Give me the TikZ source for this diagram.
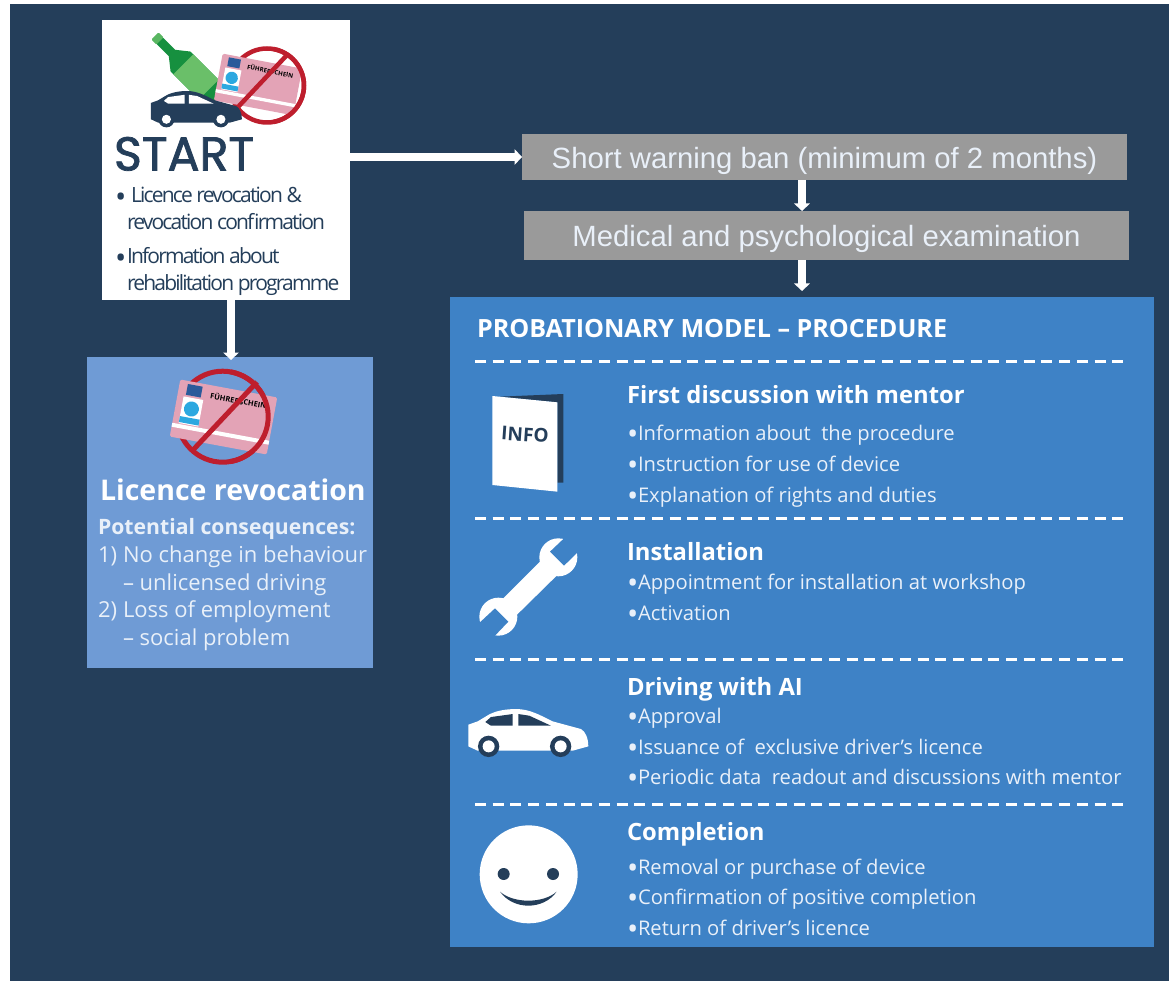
\documentclass[tikz,border=0pt]{standalone}
\usepackage{fontspec}
\setmainfont{Open Sans}
\newfontfamily\arialf{Liberation Sans}
\newfontfamily\startf[FakeBold=1.6]{Poppins}
\newfontfamily\tightf[LetterSpace=-8.6]{Open Sans}
\usetikzlibrary{arrows.meta}
\definecolor{navy}{HTML}{243E5A}
\definecolor{panel}{HTML}{3E82C6}
\definecolor{revbox}{HTML}{6F9BD5}
\definecolor{grey}{HTML}{9A9A9A}
\definecolor{softw}{HTML}{E9F0F9}
\definecolor{cardp}{HTML}{E3A3B6}
\definecolor{flagb}{HTML}{2A5A9A}
\definecolor{skyb}{HTML}{2CA8E0}
\definecolor{noRed}{HTML}{BE1E2D}
\definecolor{greend}{HTML}{16903F}
\definecolor{greenl}{HTML}{6ABF69}
\newcommand{\bul}[1]{\makebox[#1][l]{\raisebox{-.2em}{\fontsize{30}{20}\selectfont •}}}
\tikzset{
 box/.style={anchor=north west,inner sep=0pt,outer sep=0pt},
 lbl/.style={anchor=base west,inner sep=0pt,outer sep=0pt},
 arr/.style={white,line width=7.5pt,-{Triangle[length=7.5pt,width=15.5pt]}},
 head/.style={lbl,white,font=\bfseries\fontsize{23.8}{24}\selectfont},
 itm/.style={lbl,softw,font=\fontsize{20.2}{20}\selectfont},
 startt/.style={lbl,navy,font=\tightf\fontsize{21}{21}\selectfont},
 revt/.style={lbl,softw,font=\fontsize{22}{22}\selectfont},
 bantxt/.style={text=softw,text height=24pt,text depth=1pt,font=\arialf\fontsize{29.3}{30}\selectfont},
 dashline/.style={white,line width=3pt,dash pattern=on 11pt off 6.7pt},
 prohib/.style={noRed},
 licence/.pic={
  \fill[cardp,rounded corners=1.5pt] (-49.3,-29) rectangle (49.3,29);
  \fill[white] (-49.3,15) rectangle (49.3,19);
  \fill[flagb] (-41,-26) rectangle (-26,-15);
  \fill[white] (-43,-13) rectangle (-23,14);
  \fill[skyb] (-33,-2) circle (7.5);
  \fill[skyb] (-43,7) rectangle (-23,13);
  \node[transform shape,inner sep=0pt,anchor=west,font=\bfseries\fontsize{7.5}{8}\selectfont] (-ftxt) at (-17,-19) {FÜHRERSCHEIN};
 },
 pics/carpic/.style n args={4}{code={
  \fill[#1] (57,135) -- (85,125) -- (110,110) .. controls (135,93) and (170,88) .. (200,88)
    .. controls (240,88) and (270,105) .. (310,125) -- (395,148) .. controls (408,155) and (417,175) .. (417,200)
    -- (370,213) -- (85,213) -- (57,200) -- cycle;
  \fill[#2] (108,127) -- (125,112) -- (190,103) -- (190,138) -- (125,138) -- cycle;
  \fill[#2] (207,103) -- (240,108) -- (305,138) -- (207,138) -- cycle;
  \fill[#3] (118,200) circle (32);
  \fill[#3] (334,200) circle (32);
  \fill[#4] (118,200) circle (18);
  \fill[#4] (334,200) circle (18);
 }}
}
\begin{document}
\begin{tikzpicture}[x=1pt,y=-1pt]
\useasboundingbox (0,0) rectangle (1169,981);
\fill[navy] (10,4) rectangle (1169,981);

% boxes
\node[box,fill=white,minimum width=248pt,minimum height=280pt] (start) at (102,20) {};
\node[box,fill=revbox,minimum width=286pt,minimum height=311pt] (rev) at (87,357) {};
\node[box,fill=grey,minimum width=605pt,minimum height=46pt,bantxt] (ban) at (522,134) {Short warning ban (minimum of 2 months)};
\node[box,fill=grey,minimum width=605pt,minimum height=49pt,bantxt] (med) at (524,211) {Medical and psychological examination};
\node[box,fill=panel,minimum width=704pt,minimum height=650pt] (proc) at (450,297) {};

% connectors
\coordinate (flowx) at (802,0);
\coordinate (revx) at (231,0);
\draw[arr] (start.east |- ban.west) -- (ban.west);
\draw[arr] (flowx |- ban.south) -- (flowx |- med.north);
\draw[arr,shorten >=6pt] (flowx |- med.south) -- (flowx |- proc.north);
\draw[arr,shorten >=-3pt] (revx |- start.south) -- (revx |- rev.north);

% START icon
\begin{scope}[shift={(155,36)},rotate=-45]
 \fill[greend] (2,-4.5) -- (24,-4.5) -- (36,-14) -- (90,-14) -- (90,14) -- (36,14) -- (24,4.5) -- (2,4.5) -- cycle;
 \fill[greenl] (40,-14) rectangle (76,14);
 \fill[greenl!80!greend,rounded corners=1pt] (0,-5) rectangle (7,5);
\end{scope}
\draw[prohib,line width=4.5pt] (267,85.5) circle (37);
\pic[scale=.82,rotate=-10.7] at (258,84.5) {licence};
\draw[prohib,line width=4.5pt] (267,85.5) ++(-80:37) arc[start angle=-80,end angle=80,radius=37];
\draw[prohib,line width=4.5pt] (238,107) -- (287,55);
\pic[scale=.2525] at (136.6,68.8) {carpic={navy}{white}{navy}{white}};

\node[lbl,navy,font=\startf\fontsize{47.5}{48}\selectfont] (tstart) at (114,170.5) {START};
\node[startt] (s1) at (115,203) {\bul{16pt}Licence revocation \&};
\node[startt] (s2) at (127,230) {revocation confirmation};
\node[startt] (s3) at (115,264) {\bul{12pt}Information about};
\node[startt] (s4) at (127,291) {rehabilitation programme};

% Revocation panel
\draw[prohib,line width=5pt] (222.7,416.7) circle (45.5);
\pic at (223.5,417) [rotate=-10.5] {licence};
\draw[prohib,line width=5pt] (222.7,416.7) ++(-80:45.5) arc[start angle=-80,end angle=80,radius=45.5];
\draw[prohib,line width=5pt] (193,450) -- (257,382);
\node[lbl,white,font=\bfseries\fontsize{28.5}{28}\selectfont] (r0) at (100,500) {Licence revocation};
\node[lbl,softw,font=\bfseries\fontsize{21.2}{21}\selectfont] (r1) at (98,534) {Potential consequences:};
\node[revt] (r2n) at (98,562) {1)};
\node[revt] (r2) at (123,562) {No change in behaviour};
\node[revt] (r3) at (123,590) {– unlicensed driving};
\node[revt] (r4n) at (98,617) {2)};
\node[revt] (r4) at (123,617) {Loss of employment};
\node[revt] (r5) at (123,645) {– social problem};

% Procedure panel
\node[lbl,white,font=\bfseries\fontsize{25.1}{25}\selectfont] (ptitle) at (477,337.5) {PROBATIONARY MODEL – PROCEDURE};
\draw[dashline] (475,361) -- (1127,361);
\draw[dashline] (475,518) -- (1127,518);
\draw[dashline] (475,659) -- (1127,659);
\draw[dashline] (475,804) -- (1127,804);

\node[head] (h1) at (627,403) {First discussion with mentor};
\node[itm] (a1) at (627,440) {\bul{11pt}Information about\ \ the procedure};
\node[itm] (a2) at (627,471) {\bul{11pt}Instruction for use of device};
\node[itm] (a3) at (627,502) {\bul{11pt}Explanation of rights and duties};
\node[head] (h2) at (627,560) {Installation};
\node[itm] (b1) at (627,589) {\bul{11pt}Appointment for installation at workshop};
\node[itm] (b2) at (627,620) {\bul{11pt}Activation};
\node[head] (h3) at (627,695) {Driving with AI};
\node[itm] (c1) at (627,723) {\bul{11pt}Approval};
\node[itm] (c2) at (627,754) {\bul{11pt}Issuance of\ \ exclusive driver’s licence};
\node[itm] (c3) at (627,784) {\bul{11pt}Periodic data\ \ readout and discussions with mentor};
\node[head] (h4) at (627,840) {Completion};
\node[itm] (d1) at (627,874) {\bul{11pt}Removal or purchase of device};
\node[itm] (d2) at (627,904.5) {\bul{11pt}Confirmation of positive completion};
\node[itm] (d3) at (627,935) {\bul{11pt}Return of driver’s licence};

% INFO booklet + wrench
\begin{scope}[shift={(450,370)},scale=1/3]
 \fill[navy] (150,80) -- (340,72) -- (340,338) -- (322,338) -- (322,97) -- cycle;
 \fill[white] (127,78) -- (322,97) -- (322,365) -- (127,345) -- cycle;
 \fill[white] (325,562) circle (57);
 \fill[white] (145,740) circle (57);
 \fill[white] (275,570) -- (320,617) -- (200,735) -- (155,690) -- cycle;
 \fill[panel] (340,507) -- (300,545) -- (342,587) -- (382,548) -- (430,500) -- (370,450) -- cycle;
 \fill[panel] (92,755) -- (135,715) -- (175,755) -- (135,797) -- (90,850) -- (40,790) -- cycle;
\end{scope}
\node[navy,inner sep=0pt,rotate=-4,font=\bfseries\fontsize{19}{19}\selectfont] (infot) at (525,434.5) {INFO};

% white car
\pic[scale=1/3] at (449.3,679.7) {carpic={white}{navy}{navy}{white}};

% smiley
\begin{scope}[shift={(450,680)},scale=1/3]
 \fill[white] (236,583) circle (147);
 \fill[navy] (161,582) circle (18);
 \fill[navy] (309,582) circle (18);
 \fill[navy] (150,635) .. controls (190,691) and (280,691) .. (320,635) .. controls (280,671) and (190,671) .. (150,635) -- cycle;
\end{scope}
\end{tikzpicture}
\end{document}
